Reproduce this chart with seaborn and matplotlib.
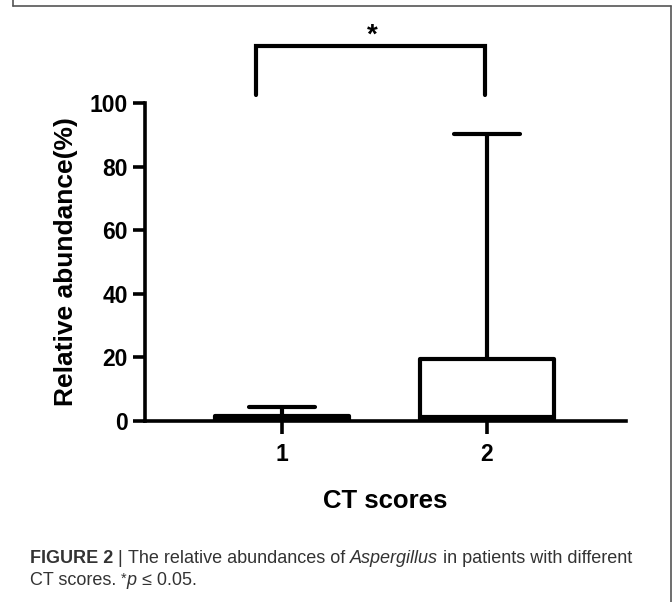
import pandas as pd
import seaborn as sns
import matplotlib.pyplot as plt
from matplotlib.lines import Line2D
from matplotlib import font_manager

# 1. data: five-number summaries (min, Q1, median, Q3, max)
CT_SCORES = ["1", "2"]
GROUP1_SUMMARY = [0.0, 0.2, 0.6, 1.5, 4.4]
GROUP2_SUMMARY = [0.0, 0.5, 1.2, 19.5, 90.3]
Y_TICKS = [0, 20, 40, 60, 80, 100]
SIG_LABEL = "*"

df = pd.DataFrame({
    "CT": [CT_SCORES[0]] * len(GROUP1_SUMMARY) + [CT_SCORES[1]] * len(GROUP2_SUMMARY),
    "value": GROUP1_SUMMARY + GROUP2_SUMMARY,
})

sns.set_theme(style="ticks")
plt.rcParams["font.family"] = ["Liberation Sans", "DejaVu Sans"]

W, H = 672, 602
fig = plt.figure(figsize=(W / 100, H / 100), dpi=100)
ax = fig.add_axes([145 / W, 1 - 421 / H, (626 - 145) / W, (421 - 103) / H])

# 2. box plot, whiskers from min to max
sns.boxplot(data=df, x="CT", y="value", whis=(0, 100), width=0.65, fill=False,
            color="black", linewidth=3, ax=ax)

ax.set_ylim(0, 100)
ax.set_xlim(-0.668, 1.678)
ax.set_yticks(Y_TICKS)
sns.despine(ax=ax)
for side in ["left", "bottom"]:
    ax.spines[side].set_linewidth(2.6)
    ax.spines[side].set_color("black")
ax.tick_params(length=9, width=2.6, labelsize=16.5, colors="black")
ax.tick_params(axis="y", pad=3.5)
ax.tick_params(axis="x", pad=6.5)
for lab in ax.get_xticklabels() + ax.get_yticklabels():
    lab.set_fontweight("bold")

ax.set_xlabel("CT scores", fontsize=18.5, fontweight="bold", color="black")
ax.set_ylabel("Relative abundance(%)", fontsize=19, fontweight="bold", color="black")
ax.yaxis.set_label_coords(-0.139, 0.5)
ax.xaxis.set_label_coords(0.5, -0.215)

# 3. significance bracket
ax.plot([-0.125, -0.125, 0.99, 0.99], [102.5, 117.9, 117.9, 102.5],
        color="black", lw=3, clip_on=False, solid_joinstyle="miter")
ax.text(0.44, 117.0, SIG_LABEL, ha="center", va="bottom", fontsize=20,
        fontweight="bold", color="black", clip_on=False)

# 4. frame around the figure panel
for xs, ys in [([13, 13], [0, 6]), ([13, 670.5], [6, 6]), ([670.5, 670.5], [6, H])]:
    fig.add_artist(Line2D([x / W for x in xs], [1 - y / H for y in ys],
                          transform=fig.transFigure, color="#555555", lw=1.2))

# 5. caption with mixed styles
names = {f.name for f in font_manager.fontManager.ttflist}
cap_font = ["Liberation Sans Narrow", "Liberation Sans", "DejaVu Sans"] \
    if "Liberation Sans Narrow" in names else ["Liberation Sans", "DejaVu Sans"]
renderer = fig.canvas.get_renderer()


def put_runs(x_px, y_px, runs, size=13):
    x = x_px / W
    for s, style, weight, scale, rise in runs:
        t = fig.text(x, 1 - (y_px - rise) / H, s, fontsize=size * scale, style=style,
                     fontweight=weight, family=cap_font, color="#333333",
                     va="baseline", ha="left")
        x += t.get_window_extent(renderer).width / W


put_runs(30, 563, [("FIGURE 2 ", "normal", "bold", 1, 0), ("| ", "normal", "normal", 1, 0),
                   ("The relative abundances of ", "normal", "normal", 1, 0),
                   ("Aspergillus", "italic", "normal", 1, 0),
                   (" in patients with different", "normal", "normal", 1, 0)])
put_runs(30, 585, [("CT scores. ", "normal", "normal", 1, 0), ("*", "normal", "normal", 0.8, 2),
                   ("p", "italic", "normal", 1, 0), (" \u2264 0.05.", "normal", "normal", 1, 0)])

fig.savefig("out.png", dpi=100)
